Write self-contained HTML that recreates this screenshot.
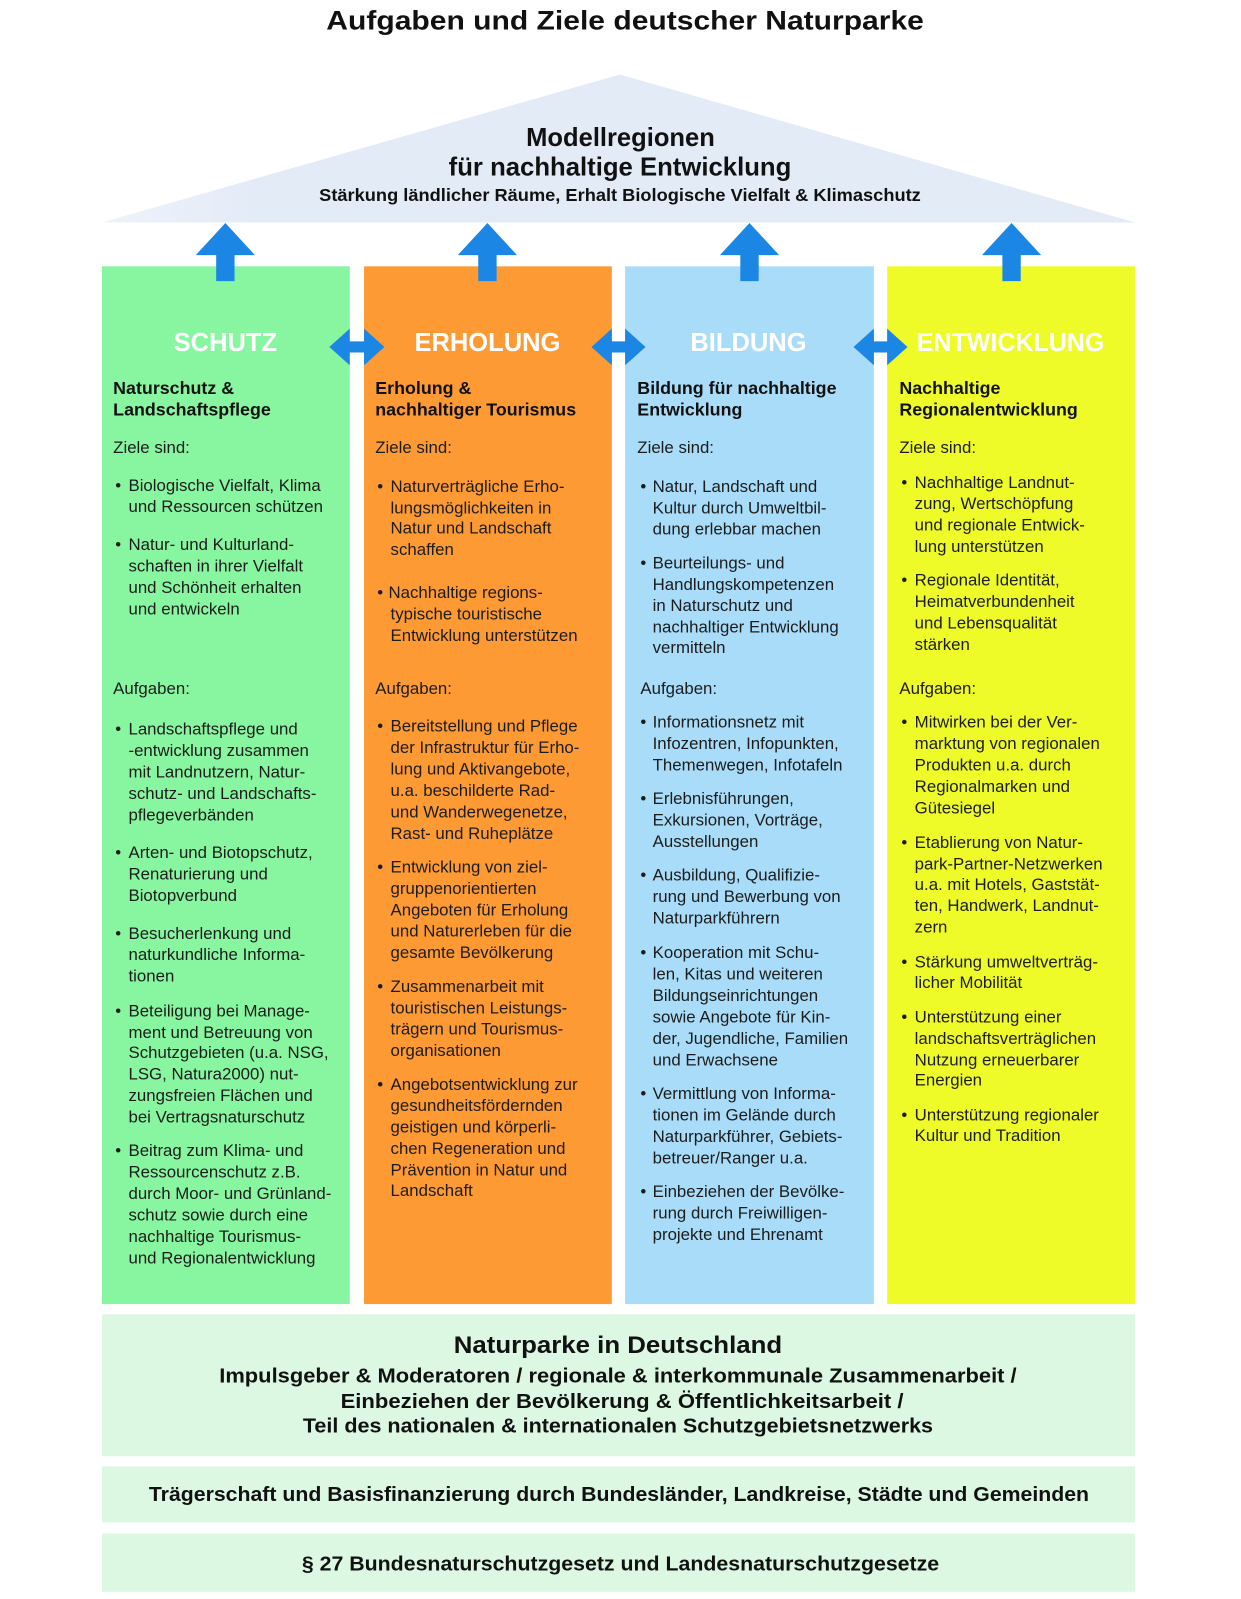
<!DOCTYPE html>
<html><head><meta charset="utf-8"><style>
html,body{margin:0;padding:0;background:#fff;}
svg{display:block;}
.t{font-family:"Liberation Sans",Arial,sans-serif;}
.b{font-family:"Liberation Sans",Arial,sans-serif;font-size:16.5px;fill:#1c1c1c;}
.s{font-family:"Liberation Sans",Arial,sans-serif;font-size:17.5px;font-weight:bold;fill:#111;}
.h{font-family:"Liberation Sans",Arial,sans-serif;font-size:25px;font-weight:bold;fill:#fff;text-anchor:middle;}
.c{font-family:"Liberation Sans",Arial,sans-serif;font-weight:bold;fill:#111;text-anchor:middle;}
</style></head><body>
<svg width="1241" height="1599" viewBox="0 0 1217 1567" preserveAspectRatio="none" xmlns="http://www.w3.org/2000/svg">
<defs>
<linearGradient id="rg" x1="0" y1="0" x2="1" y2="0">
<stop offset="0" stop-color="#eef3fa"/><stop offset="0.15" stop-color="#e3ebf7"/><stop offset="1" stop-color="#e3ebf7"/>
</linearGradient>
</defs>
<rect width="1217" height="1567" fill="#fff"/>
<!-- title -->
<text class="c" x="613" y="29" font-size="26" textLength="586" lengthAdjust="spacingAndGlyphs">Aufgaben und Ziele deutscher Naturparke</text>
<!-- roof -->
<polygon points="100,218 608,73 1113,218" fill="url(#rg)"/>
<text class="c" x="608.5" y="143" font-size="25" textLength="185" lengthAdjust="spacingAndGlyphs">Modellregionen</text>
<text class="c" x="608" y="172" font-size="25" textLength="336" lengthAdjust="spacingAndGlyphs">für nachhaltige Entwicklung</text>
<text class="c" x="608" y="197" font-size="17" textLength="590" lengthAdjust="spacingAndGlyphs">Stärkung ländlicher Räume, Erhalt Biologische Vielfalt &amp; Klimaschutz</text>

<!-- columns -->
<rect x="100" y="261" width="243" height="1017" fill="#88f6a0"/>
<rect x="357" y="261" width="243" height="1017" fill="#fd9a33"/>
<rect x="613" y="261" width="244" height="1017" fill="#a9dcf8"/>
<rect x="870" y="261" width="243" height="1017" fill="#eefb28"/>

<!-- up arrows -->
<g fill="#1b86e4">
<polygon points="221,218.5 250,250 230,250 230,275.5 212,275.5 212,250 192,250"/>
<polygon points="478,218.5 507,250 487,250 487,275.5 469,275.5 469,250 449,250"/>
<polygon points="735,218.5 764,250 744,250 744,275.5 726,275.5 726,250 706,250"/>
<polygon points="992,218.5 1021,250 1001,250 1001,275.5 983,275.5 983,250 963,250"/>
</g>
<!-- double arrows -->
<g fill="#1b86e4">
<polygon points="323,340 343,322 343,334.5 357,334.5 357,322 377,340 357,358 357,345.5 343,345.5 343,358"/>
<polygon points="580,340 600,322 600,334.5 613,334.5 613,322 633,340 613,358 613,345.5 600,345.5 600,358"/>
<polygon points="837,340 857,322 857,334.5 870,334.5 870,322 890,340 870,358 870,345.5 857,345.5 857,358"/>
</g>

<!-- headings -->
<text class="h" x="221" y="344">SCHUTZ</text>
<text class="h" x="478" y="344">ERHOLUNG</text>
<text class="h" x="734" y="344">BILDUNG</text>
<text class="h" x="991" y="344" textLength="184" lengthAdjust="spacingAndGlyphs">ENTWICKLUNG</text>

<!-- Column 1 -->
<text class="s" x="111" y="386">Naturschutz &amp;</text>
<text class="s" x="111" y="407">Landschaftspflege</text>
<text class="b" x="111" y="444">Ziele sind:</text>
<text class="b" x="113" y="481">•</text>
<text class="b" x="126" y="481">Biologische Vielfalt, Klima</text>
<text class="b" x="126" y="502">und Ressourcen schützen</text>
<text class="b" x="113" y="539">•</text>
<text class="b" x="126" y="539">Natur- und Kulturland-</text>
<text class="b" x="126" y="560">schaften in ihrer Vielfalt</text>
<text class="b" x="126" y="581">und Schönheit erhalten</text>
<text class="b" x="126" y="602">und entwickeln</text>
<text class="b" x="111" y="680">Aufgaben:</text>
<text class="b" x="113" y="720">•</text>
<text class="b" x="126" y="720">Landschaftspflege und</text>
<text class="b" x="126" y="741">-entwicklung zusammen</text>
<text class="b" x="126" y="762">mit Landnutzern, Natur-</text>
<text class="b" x="126" y="783">schutz- und Landschafts-</text>
<text class="b" x="126" y="804">pflegeverbänden</text>
<text class="b" x="113" y="841">•</text>
<text class="b" x="126" y="841">Arten- und Biotopschutz,</text>
<text class="b" x="126" y="862">Renaturierung und</text>
<text class="b" x="126" y="883">Biotopverbund</text>
<text class="b" x="113" y="920">•</text>
<text class="b" x="126" y="920">Besucherlenkung und</text>
<text class="b" x="126" y="941">naturkundliche Informa-</text>
<text class="b" x="126" y="962">tionen</text>
<text class="b" x="113" y="996">•</text>
<text class="b" x="126" y="996">Beteiligung bei Manage-</text>
<text class="b" x="126" y="1017">ment und Betreuung von</text>
<text class="b" x="126" y="1037">Schutzgebieten (u.a. NSG,</text>
<text class="b" x="126" y="1058">LSG, Natura2000) nut-</text>
<text class="b" x="126" y="1079">zungsfreien Flächen und</text>
<text class="b" x="126" y="1100">bei Vertragsnaturschutz</text>
<text class="b" x="113" y="1133">•</text>
<text class="b" x="126" y="1133">Beitrag zum Klima- und</text>
<text class="b" x="126" y="1154">Ressourcenschutz z.B.</text>
<text class="b" x="126" y="1175">durch Moor- und Grünland-</text>
<text class="b" x="126" y="1196">schutz sowie durch eine</text>
<text class="b" x="126" y="1217">nachhaltige Tourismus-</text>
<text class="b" x="126" y="1238">und Regionalentwicklung</text>

<!-- Column 2 -->
<text class="s" x="368" y="386">Erholung &amp;</text>
<text class="s" x="368" y="407">nachhaltiger Tourismus</text>
<text class="b" x="368" y="444">Ziele sind:</text>
<text class="b" x="370" y="482">•</text>
<text class="b" x="383" y="482">Naturverträgliche Erho-</text>
<text class="b" x="383" y="503">lungsmöglichkeiten in</text>
<text class="b" x="383" y="523">Natur und Landschaft</text>
<text class="b" x="383" y="544">schaffen</text>
<text class="b" x="370" y="586">•</text>
<text class="b" x="381" y="586">Nachhaltige regions-</text>
<text class="b" x="383" y="607">typische touristische</text>
<text class="b" x="383" y="628">Entwicklung unterstützen</text>
<text class="b" x="368" y="680">Aufgaben:</text>
<text class="b" x="370" y="717">•</text>
<text class="b" x="383" y="717">Bereitstellung und Pflege</text>
<text class="b" x="383" y="738">der Infrastruktur für Erho-</text>
<text class="b" x="383" y="759">lung und Aktivangebote,</text>
<text class="b" x="383" y="780">u.a. beschilderte Rad-</text>
<text class="b" x="383" y="801">und Wanderwegenetze,</text>
<text class="b" x="383" y="822">Rast- und Ruheplätze</text>
<text class="b" x="370" y="855">•</text>
<text class="b" x="383" y="855">Entwicklung von ziel-</text>
<text class="b" x="383" y="876">gruppenorientierten</text>
<text class="b" x="383" y="897">Angeboten für Erholung</text>
<text class="b" x="383" y="918">und Naturerleben für die</text>
<text class="b" x="383" y="939">gesamte Bevölkerung</text>
<text class="b" x="370" y="972">•</text>
<text class="b" x="383" y="972">Zusammenarbeit mit</text>
<text class="b" x="383" y="993">touristischen Leistungs-</text>
<text class="b" x="383" y="1014">trägern und Tourismus-</text>
<text class="b" x="383" y="1035">organisationen</text>
<text class="b" x="370" y="1068">•</text>
<text class="b" x="383" y="1068">Angebotsentwicklung zur</text>
<text class="b" x="383" y="1089">gesundheitsfördernden</text>
<text class="b" x="383" y="1110">geistigen und körperli-</text>
<text class="b" x="383" y="1131">chen Regeneration und</text>
<text class="b" x="383" y="1152">Prävention in Natur und</text>
<text class="b" x="383" y="1172">Landschaft</text>

<!-- Column 3 -->
<text class="s" x="625" y="386">Bildung für nachhaltige</text>
<text class="s" x="625" y="407">Entwicklung</text>
<text class="b" x="625" y="444">Ziele sind:</text>
<text class="b" x="628" y="482">•</text>
<text class="b" x="640" y="482">Natur, Landschaft und</text>
<text class="b" x="640" y="503">Kultur durch Umweltbil-</text>
<text class="b" x="640" y="524">dung erlebbar machen</text>
<text class="b" x="628" y="557">•</text>
<text class="b" x="640" y="557">Beurteilungs- und</text>
<text class="b" x="640" y="578">Handlungskompetenzen</text>
<text class="b" x="640" y="599">in Naturschutz und</text>
<text class="b" x="640" y="620">nachhaltiger Entwicklung</text>
<text class="b" x="640" y="640">vermitteln</text>
<text class="b" x="628" y="680">Aufgaben:</text>
<text class="b" x="628" y="713">•</text>
<text class="b" x="640" y="713">Informationsnetz mit</text>
<text class="b" x="640" y="734">Infozentren, Infopunkten,</text>
<text class="b" x="640" y="755">Themenwegen, Infotafeln</text>
<text class="b" x="628" y="788">•</text>
<text class="b" x="640" y="788">Erlebnisführungen,</text>
<text class="b" x="640" y="809">Exkursionen, Vorträge,</text>
<text class="b" x="640" y="830">Ausstellungen</text>
<text class="b" x="628" y="863">•</text>
<text class="b" x="640" y="863">Ausbildung, Qualifizie-</text>
<text class="b" x="640" y="884">rung und Bewerbung von</text>
<text class="b" x="640" y="905">Naturparkführern</text>
<text class="b" x="628" y="939">•</text>
<text class="b" x="640" y="939">Kooperation mit Schu-</text>
<text class="b" x="640" y="960">len, Kitas und weiteren</text>
<text class="b" x="640" y="981">Bildungseinrichtungen</text>
<text class="b" x="640" y="1002">sowie Angebote für Kin-</text>
<text class="b" x="640" y="1023">der, Jugendliche, Familien</text>
<text class="b" x="640" y="1044">und Erwachsene</text>
<text class="b" x="628" y="1077">•</text>
<text class="b" x="640" y="1077">Vermittlung von Informa-</text>
<text class="b" x="640" y="1098">tionen im Gelände durch</text>
<text class="b" x="640" y="1119">Naturparkführer, Gebiets-</text>
<text class="b" x="640" y="1140">betreuer/Ranger u.a.</text>
<text class="b" x="628" y="1173">•</text>
<text class="b" x="640" y="1173">Einbeziehen der Bevölke-</text>
<text class="b" x="640" y="1194">rung durch Freiwilligen-</text>
<text class="b" x="640" y="1215">projekte und Ehrenamt</text>

<!-- Column 4 -->
<text class="s" x="882" y="386">Nachhaltige</text>
<text class="s" x="882" y="407">Regionalentwicklung</text>
<text class="b" x="882" y="444">Ziele sind:</text>
<text class="b" x="884" y="478">•</text>
<text class="b" x="897" y="478">Nachhaltige Landnut-</text>
<text class="b" x="897" y="499">zung, Wertschöpfung</text>
<text class="b" x="897" y="520">und regionale Entwick-</text>
<text class="b" x="897" y="541">lung unterstützen</text>
<text class="b" x="884" y="574">•</text>
<text class="b" x="897" y="574">Regionale Identität,</text>
<text class="b" x="897" y="595">Heimatverbundenheit</text>
<text class="b" x="897" y="616">und Lebensqualität</text>
<text class="b" x="897" y="637">stärken</text>
<text class="b" x="882" y="680">Aufgaben:</text>
<text class="b" x="884" y="713">•</text>
<text class="b" x="897" y="713">Mitwirken bei der Ver-</text>
<text class="b" x="897" y="734">marktung von regionalen</text>
<text class="b" x="897" y="755">Produkten u.a. durch</text>
<text class="b" x="897" y="776">Regionalmarken und</text>
<text class="b" x="897" y="797">Gütesiegel</text>
<text class="b" x="884" y="831">•</text>
<text class="b" x="897" y="831">Etablierung von Natur-</text>
<text class="b" x="897" y="852">park-Partner-Netzwerken</text>
<text class="b" x="897" y="872">u.a. mit Hotels, Gaststät-</text>
<text class="b" x="897" y="893">ten, Handwerk, Landnut-</text>
<text class="b" x="897" y="914">zern</text>
<text class="b" x="884" y="948">•</text>
<text class="b" x="897" y="948">Stärkung umweltverträg-</text>
<text class="b" x="897" y="968">licher Mobilität</text>
<text class="b" x="884" y="1002">•</text>
<text class="b" x="897" y="1002">Unterstützung einer</text>
<text class="b" x="897" y="1023">landschaftsverträglichen</text>
<text class="b" x="897" y="1044">Nutzung erneuerbarer</text>
<text class="b" x="897" y="1064">Energien</text>
<text class="b" x="884" y="1098">•</text>
<text class="b" x="897" y="1098">Unterstützung regionaler</text>
<text class="b" x="897" y="1118">Kultur und Tradition</text>

<!-- bottom boxes -->
<rect x="100" y="1288" width="1013" height="139" fill="#dcf8e3"/>
<rect x="100" y="1437" width="1013" height="55" fill="#dcf8e3"/>
<rect x="100" y="1503" width="1013" height="57" fill="#dcf8e3"/>
<text class="c" x="606" y="1326" font-size="24" textLength="322" lengthAdjust="spacingAndGlyphs">Naturparke in Deutschland</text>
<text class="c" x="606" y="1355" font-size="20" textLength="782" lengthAdjust="spacingAndGlyphs">Impulsgeber &amp; Moderatoren / regionale &amp; interkommunale Zusammenarbeit /</text>
<text class="c" x="610" y="1380" font-size="20" textLength="552" lengthAdjust="spacingAndGlyphs">Einbeziehen der Bevölkerung &amp; Öffentlichkeitsarbeit /</text>
<text class="c" x="606" y="1404" font-size="20" textLength="618" lengthAdjust="spacingAndGlyphs">Teil des nationalen &amp; internationalen Schutzgebietsnetzwerks</text>
<text class="c" x="607" y="1471" font-size="20" textLength="922" lengthAdjust="spacingAndGlyphs">Trägerschaft und Basisfinanzierung durch Bundesländer, Landkreise, Städte und Gemeinden</text>
<text class="c" x="608.5" y="1539" font-size="20" textLength="625" lengthAdjust="spacingAndGlyphs">§ 27 Bundesnaturschutzgesetz und Landesnaturschutzgesetze</text>
</svg>
</body></html>
